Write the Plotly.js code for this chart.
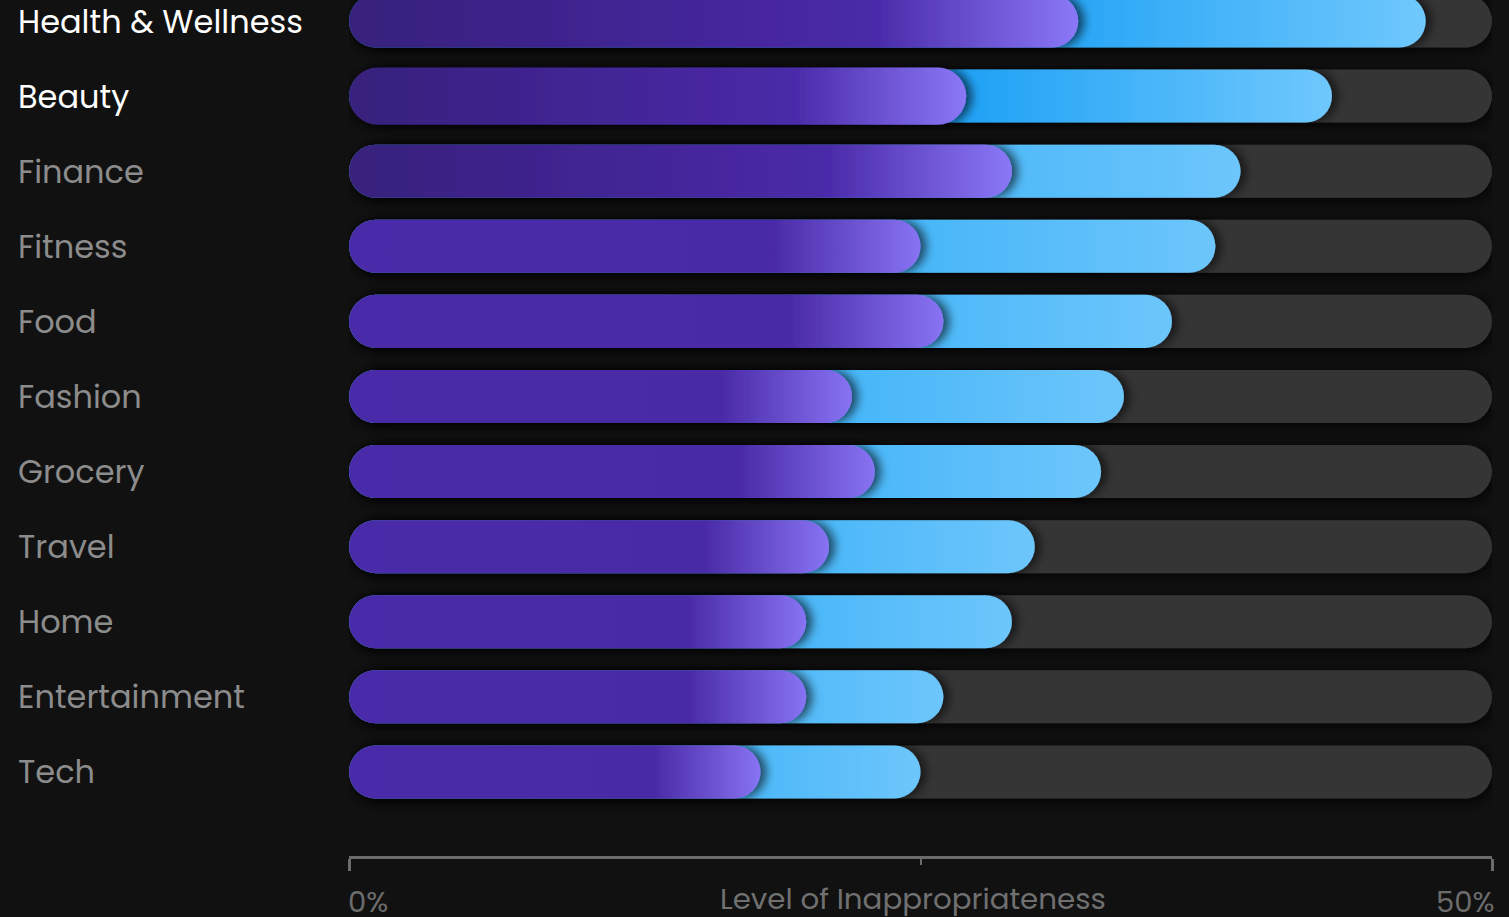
<!DOCTYPE html>
<html>
<head>
<meta charset="utf-8">
<script src="https://cdn.plot.ly/plotly-3.0.1.min.js"></script>
<style>
  html, body { margin: 0; padding: 0; background: #111111; }
  #chart { width: 1509px; height: 917px; }
</style>
</head>
<body>
<svg width="0" height="0" style="position:absolute" id="fx"><defs id="fxdefs"></defs></svg>
<div id="chart"></div>
<script>
// ---- data ----
const categories = ["Health & Wellness", "Beauty", "Finance", "Fitness", "Food", "Fashion",
                    "Grocery", "Travel", "Home", "Entertainment", "Tech"];
const innerShare = [31.9, 27.0, 29.0, 25.0, 26.0, 22.0, 23.0, 21.0, 20.0, 20.0, 18.0];
const totalShare = [47.1, 43.0, 39.0, 37.9, 36.0, 33.9, 32.9, 30.0, 29.0, 26.0, 25.0];
const scaleMax = 50;
const tickVals = [0, 50];
const tickText = ["0%", "50%"];
const minorTickVals = [25];
const axisTitle = "Level of Inappropriateness";
const highlighted = ["Health & Wellness", "Beauty"];

// ---- style ----
const FONT = "Poppins, 'Open Sans', sans-serif";
const barW = categories.map(() => 0.706);
const innerW = categories.map(c => c === "Beauty" ? 0.76 : 0.706);

const data = [
  { type: "bar", orientation: "h", y: categories, x: categories.map(() => scaleMax),
    width: barW, marker: { color: "#353535", line: { width: 0 } }, hoverinfo: "skip" },
  { type: "bar", orientation: "h", y: categories, x: totalShare,
    width: barW, marker: { color: "#45b5f8", line: { width: 0 } }, hoverinfo: "skip" },
  { type: "bar", orientation: "h", y: categories, x: innerShare,
    width: innerW, marker: { color: "#4a2aa8", line: { width: 0 } }, hoverinfo: "skip" }
];

const annotations = categories.map(c => ({
  xref: "paper", yref: "y", x: 0, y: c, xanchor: "left", yanchor: "middle", xshift: -333,
  text: c, showarrow: false,
  font: { family: FONT, size: 32, color: highlighted.includes(c) ? "#ffffff" : "#8c8c8c" }
}));
tickVals.forEach((v, i) => annotations.push({
  xref: "x", yref: "paper", x: v, y: 0, xanchor: i === 0 ? "left" : "right", yanchor: "middle",
  xshift: i === 0 ? -3 : 4, yshift: -46, text: tickText[i], showarrow: false,
  font: { family: FONT, size: 29, color: "#6c6c6c" }
}));
annotations.push({
  xref: "paper", yref: "paper", x: 0.5, y: 0, xanchor: "center", yanchor: "middle",
  xshift: -8, yshift: -42, text: axisTitle, showarrow: false,
  font: { family: FONT, size: 29.3, color: "#707070" }
});

const layout = {
  width: 1509, height: 917,
  margin: { l: 349, r: 17, t: 0, b: 61 },
  paper_bgcolor: "#111111", plot_bgcolor: "#111111",
  barmode: "overlay", showlegend: false,
  xaxis: {
    range: [0, scaleMax], showgrid: false, zeroline: false,
    showline: true, linecolor: "#6b6b6b", linewidth: 3,
    ticks: "outside", tickvals: tickVals, ticklen: 12, tickwidth: 3, tickcolor: "#6b6b6b",
    showticklabels: false,
    minor: { tickvals: minorTickVals, ticks: "outside", ticklen: 6, tickwidth: 2, tickcolor: "#6b6b6b" }
  },
  yaxis: {
    type: "category", categoryorder: "array", categoryarray: categories,
    range: [11.12, -0.28], showgrid: false, zeroline: false, showline: false,
    showticklabels: false, ticks: ""
  },
  annotations: annotations
};

// gradient definitions
const NS = "http://www.w3.org/2000/svg";
const defs = document.getElementById("fxdefs");
function grad(id, stops) {
  const g = document.createElementNS(NS, "linearGradient");
  g.setAttribute("id", id);
  g.setAttribute("x1", "0"); g.setAttribute("x2", "1");
  g.setAttribute("y1", "0"); g.setAttribute("y2", "0");
  stops.forEach(([o, c]) => {
    const s = document.createElementNS(NS, "stop");
    s.setAttribute("offset", o); s.setAttribute("stop-color", c);
    g.appendChild(s);
  });
  defs.appendChild(g);
}
function shadow(id, dx, dy, sd, op) {
  const f = document.createElementNS(NS, "filter");
  f.setAttribute("id", id);
  f.setAttribute("x", "-20%"); f.setAttribute("y", "-80%");
  f.setAttribute("width", "140%"); f.setAttribute("height", "260%");
  const d = document.createElementNS(NS, "feDropShadow");
  d.setAttribute("dx", dx); d.setAttribute("dy", dy);
  d.setAttribute("stdDeviation", sd);
  d.setAttribute("flood-color", "#000000"); d.setAttribute("flood-opacity", op);
  f.appendChild(d);
  defs.appendChild(f);
}
shadow("sh0", 2, 3, 8, 0.9);
shadow("sh1", 6, 0, 5, 0.55);
shadow("sh2", 6, 0, 5, 0.6);

categories.forEach((c, i) => {
  if (i < 2) {
    grad("g1_" + i, [[0, "#1a9ef4"], [0.62, "#1ea1f5"], [1, "#6fc8fc"]]);
  } else {
    grad("g1_" + i, [[0, "#3fb2f7"], [0.6, "#42b4f8"], [1, "#6dc6fb"]]);
  }
  if (i < 3) {
    grad("g2_" + i, [[0, "#37207c"], [0.72, "#4a2aa8"], [1, "#8a78f7"]]);
  } else {
    grad("g2_" + i, [[0, "#4a2ba8"], [0.74, "#4a2aa6"], [1, "#8773f3"]]);
  }
});

Plotly.newPlot("chart", data, layout, { displayModeBar: false, staticPlot: true }).then(gd => {
  const traces = gd.querySelectorAll(".barlayer .trace");
  traces.forEach((tr, ti) => {
    tr.querySelectorAll(".point path").forEach((p, pi) => {
      const b = p.getBBox();
      const r = b.height / 2;
      const x0 = b.x, x1 = b.x + b.width, y0 = b.y, y1 = b.y + b.height;
      const d = `M${x0 + r},${y0}H${x1 - r}A${r},${r} 0 0 1 ${x1 - r},${y1}H${x0 + r}A${r},${r} 0 0 1 ${x0 + r},${y0}Z`;
      p.setAttribute("d", d);
      if (ti > 0) p.style.fill = `url(#g${ti}_${pi})`;
      p.setAttribute("filter", `url(#sh${ti})`);
    });
  });
});
</script>
</body>
</html>
